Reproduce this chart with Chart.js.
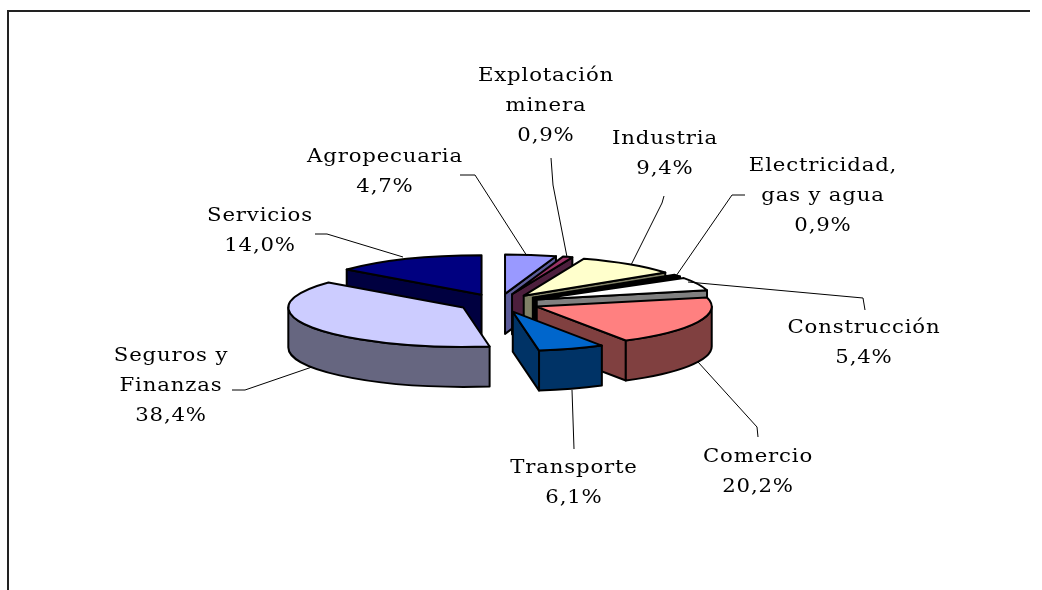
<!DOCTYPE html>
<html>
<head>
<meta charset="utf-8">
<style>html,body{margin:0;padding:0;background:#fff}canvas{display:block}</style>
<script src="https://cdn.jsdelivr.net/npm/chart.js@4/dist/chart.umd.min.js"></script>
</head>
<body>
<canvas id="c" width="1042" height="590"></canvas>
<script>
const categories = ["Agropecuaria","Explotación minera","Industria","Electricidad, gas y agua","Construcción","Comercio","Transporte","Seguros y Finanzas","Servicios"];
const values = [4.7,0.9,9.4,0.9,5.4,20.2,6.1,38.4,14.0];
const topColors = ["#9999FF","#993366","#FFFFCC","#000000","#FFFFFF","#FF8080","#0066CC","#CCCCFF","#000080"];
const sideColors = ["#5C5C99","#4D1F3D","#808066","#000000","#808080","#804040","#003366","#666680","#000040"];

// Label lines as they wrap in the picture (last line is the value)
const labelLines = [["Agropecuaria"],["Explotación","minera"],["Industria"],["Electricidad,","gas y agua"],["Construcción"],["Comercio"],["Transporte"],["Seguros y","Finanzas"],["Servicios"]];
const labelCenters = [[385,157],[546,76],[665,139],[823,166],[864,328],[758,457],[574,468],[171,356],[260,216]];
const leaders = [
  [[527,256],[475,175],[460,175]],
  [[567,257],[553,185],[551,158]],
  [[631,265],[662,203],[664,196]],
  [[676,276],[732,195],[745,195]],
  [[688,282],[863,298],[865,310]],
  [[698,362],[757,427],[758,437]],
  [[572,390],[574,449]],
  [[312,367],[245,390],[232,390]],
  [[403,257],[327,234],[315,234]]
];

const FLAT = 0.225, DEPTH = 40, EXPLODE = 41, LINE_H = 30, TEXT_STRETCH = 1.18;

const pie3d = {
  id: 'pie3d',
  beforeDatasetDraw(chart) {
    const ctx = chart.ctx;
    const arcs = chart.getDatasetMeta(0).data;
    const order = arcs.map((a,i)=>i).sort((p,q)=>{
      const m = a => (a.startAngle + a.endAngle)/2;
      return Math.sin(m(arcs[q])) * -1 - Math.sin(m(arcs[p])) * -1;
    });
    ctx.save();
    ctx.lineWidth = 2;
    ctx.strokeStyle = '#000';
    ctx.lineJoin = 'round';
    for (const i of order) {
      const arc = arcs[i];
      const s = arc.startAngle, e = arc.endAngle, r = arc.outerRadius, mid = (s+e)/2;
      const cx = arc.x + EXPLODE*Math.cos(mid);
      const cy = arc.y + EXPLODE*Math.sin(mid)*FLAT;
      const P = (a, d) => [cx + r*Math.cos(a), cy + r*Math.sin(a)*FLAT + d];
      const wall = (a) => {
        const p = P(a,0);
        ctx.beginPath();
        ctx.moveTo(cx,cy); ctx.lineTo(p[0],p[1]); ctx.lineTo(p[0],p[1]+DEPTH); ctx.lineTo(cx,cy+DEPTH); ctx.closePath();
        ctx.fillStyle = sideColors[i]; ctx.fill(); ctx.stroke();
      };
      if (Math.cos(s) < 0) wall(s);
      if (Math.cos(e) > 0) wall(e);
      const fs = Math.max(s,0), fe = Math.min(e,Math.PI);
      if (fe > fs) {
        ctx.beginPath();
        ctx.ellipse(cx,cy,r,r*FLAT,0,fs,fe,false);
        ctx.ellipse(cx,cy+DEPTH,r,r*FLAT,0,fe,fs,true);
        ctx.closePath();
        ctx.fillStyle = sideColors[i]; ctx.fill(); ctx.stroke();
      }
      // top face: the library's own arc element, flattened
      ctx.save();
      ctx.translate(cx,cy);
      ctx.scale(1,FLAT);
      ctx.translate(-arc.x,-arc.y);
      arc.draw(ctx);
      ctx.restore();
      ctx.beginPath();
      ctx.moveTo(cx,cy);
      ctx.ellipse(cx,cy,r,r*FLAT,0,s,e,false);
      ctx.closePath();
      ctx.stroke();
    }
    ctx.restore();
    return false;
  },
  afterDraw(chart) {
    const ctx = chart.ctx;
    ctx.save();
    // frame
    ctx.strokeStyle = '#222'; ctx.lineWidth = 2;
    ctx.beginPath(); ctx.moveTo(8,590); ctx.lineTo(8,11); ctx.lineTo(1030,11); ctx.stroke();
    // leaders
    ctx.strokeStyle = '#000'; ctx.lineWidth = 1;
    leaders.forEach(l => {
      ctx.beginPath();
      l.forEach((p,j)=> j ? ctx.lineTo(p[0],p[1]) : ctx.moveTo(p[0],p[1]));
      ctx.stroke();
    });
    // labels
    ctx.fillStyle = '#000';
    ctx.font = '18px "DejaVu Serif"';
    ctx.letterSpacing = '0.7px';
    ctx.textAlign = 'center';
    ctx.textBaseline = 'middle';
    categories.forEach((_,i)=>{
      const lines = labelLines[i].concat([values[i].toFixed(1).replace('.',',') + '%']);
      lines.forEach((t,j)=> {
        ctx.save();
        ctx.translate(labelCenters[i][0], labelCenters[i][1] + j*LINE_H);
        ctx.scale(TEXT_STRETCH,1);
        ctx.fillText(t,0,0);
        ctx.restore();
      });
    });
    ctx.restore();
  }
};

new Chart(document.getElementById('c'), {
  type: 'pie',
  data: { labels: categories, datasets: [{ data: values, backgroundColor: topColors, borderWidth: 0 }] },
  options: {
    responsive: false,
    animation: false,
    radius: 175,
    layout: { padding: { right: 44, top: 16 } },
    plugins: { legend: { display: false }, tooltip: { enabled: false } }
  },
  plugins: [pie3d]
});
</script>
</body>
</html>
